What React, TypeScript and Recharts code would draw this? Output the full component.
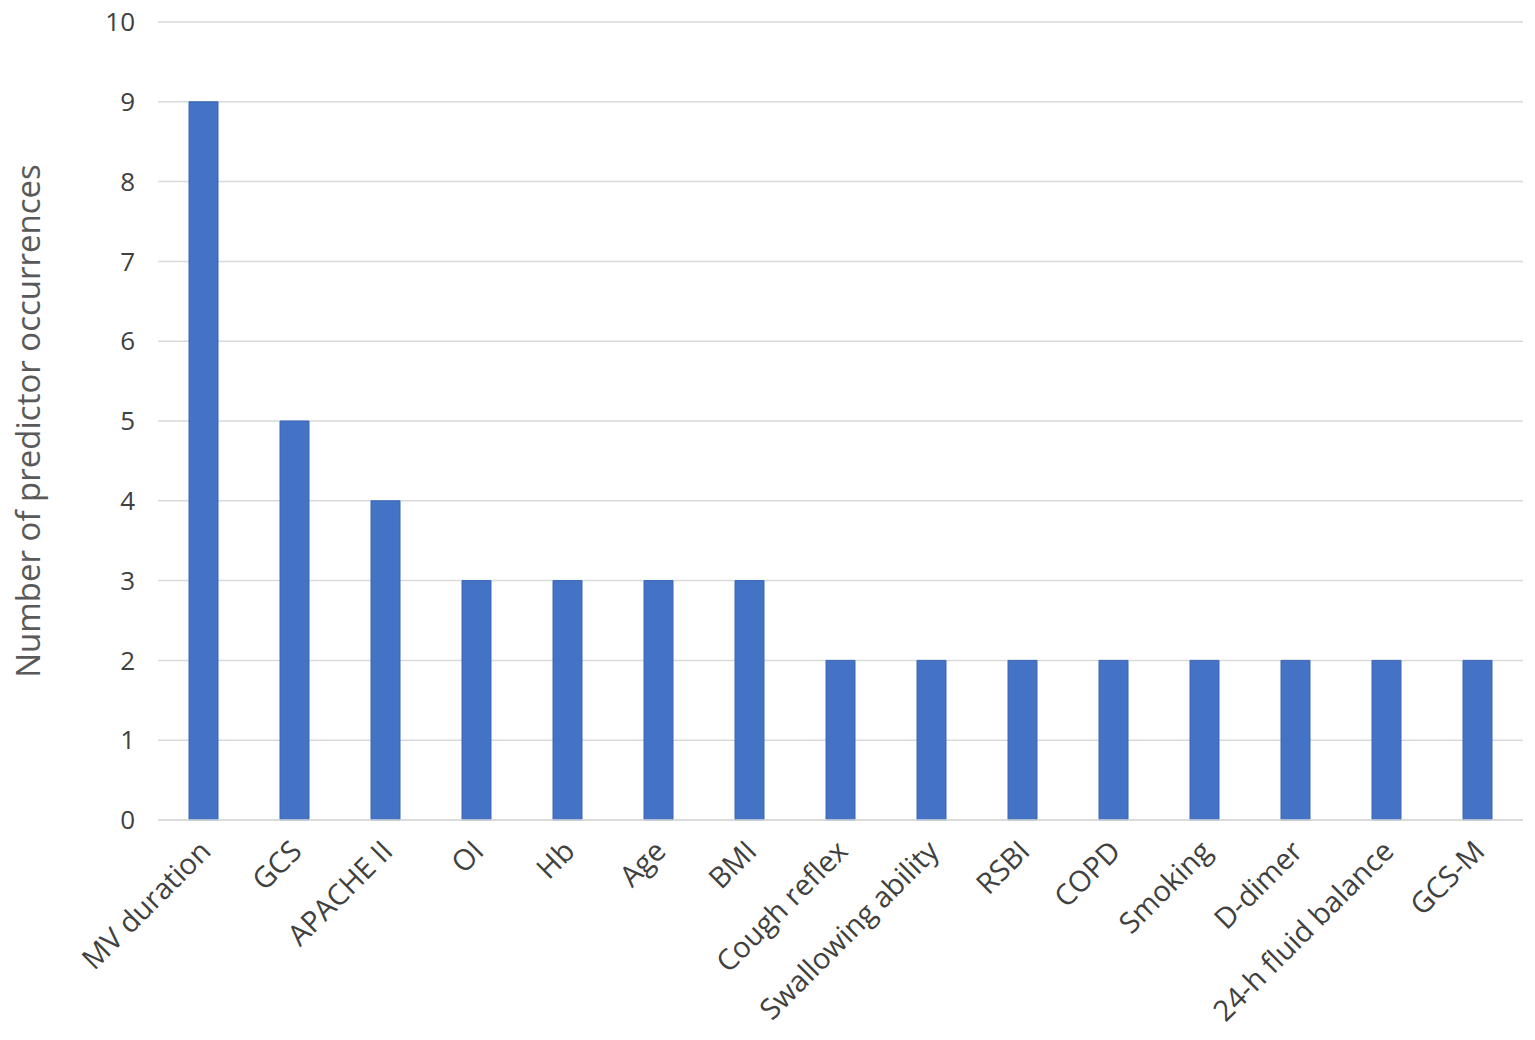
import React from 'react';
import { BarChart, Bar, XAxis, YAxis, CartesianGrid } from 'recharts';

const predictors = [
  'MV duration', 'GCS', 'APACHE II', 'OI', 'Hb', 'Age', 'BMI', 'Cough reflex',
  'Swallowing ability', 'RSBI', 'COPD', 'Smoking', 'D-dimer', '24-h fluid balance', 'GCS-M',
];
const occurrences = [9, 5, 4, 3, 3, 3, 3, 2, 2, 2, 2, 2, 2, 2, 2];
const yTicks = [0, 1, 2, 3, 4, 5, 6, 7, 8, 9, 10];

const chartData = predictors.map((name, i) => ({ name, count: occurrences[i] }));

const FONT = '"Open Sans", "Noto Sans", Arial, sans-serif';

const XTick = (props: any) => {
  const { x, y, payload } = props;
  const ax = x + 9;
  const ay = y + 25;
  return (
    <text
      x={ax}
      y={ay}
      transform={`rotate(-45, ${ax}, ${ay})`}
      textAnchor="end"
      fontSize={29}
      fontFamily={FONT}
      fill="#404040"
    >
      {payload.value}
    </text>
  );
};

const YTitle = () => (
  <text
    x={27}
    y={421}
    transform="rotate(-90, 27, 421)"
    textAnchor="middle"
    dominantBaseline="central"
    fontSize={33}
    fontFamily={FONT}
    fill="#595959"
  >
    Number of predictor occurrences
  </text>
);

const App: React.FC = () => {
  return (
    <div style={{ position: 'absolute', left: 0, top: 0, background: '#fff' }}>
      <BarChart
        width={1535}
        height={1040}
        data={chartData}
        margin={{ top: 22, right: 12, left: 0, bottom: 0 }}
        barCategoryGap={0}
      >
        <CartesianGrid vertical={false} stroke="#d9d9d9" strokeWidth={1.5} />
        <XAxis
          dataKey="name"
          interval={0}
          height={220}
          tickLine={false}
          axisLine={{ stroke: '#d9d9d9', strokeWidth: 1.5 }}
          tick={<XTick />}
        />
        <YAxis
          width={158}
          domain={[0, 10]}
          ticks={yTicks}
          tickLine={false}
          axisLine={false}
          tickMargin={17}
          tick={{ fontSize: 26, fontFamily: FONT, fill: '#404040' }}
          label={<YTitle />}
        />
        <Bar dataKey="count" fill="#4472c4" stroke="#3a66b8" barSize={29} isAnimationActive={false} />
      </BarChart>
    </div>
  );
};

export default App;
